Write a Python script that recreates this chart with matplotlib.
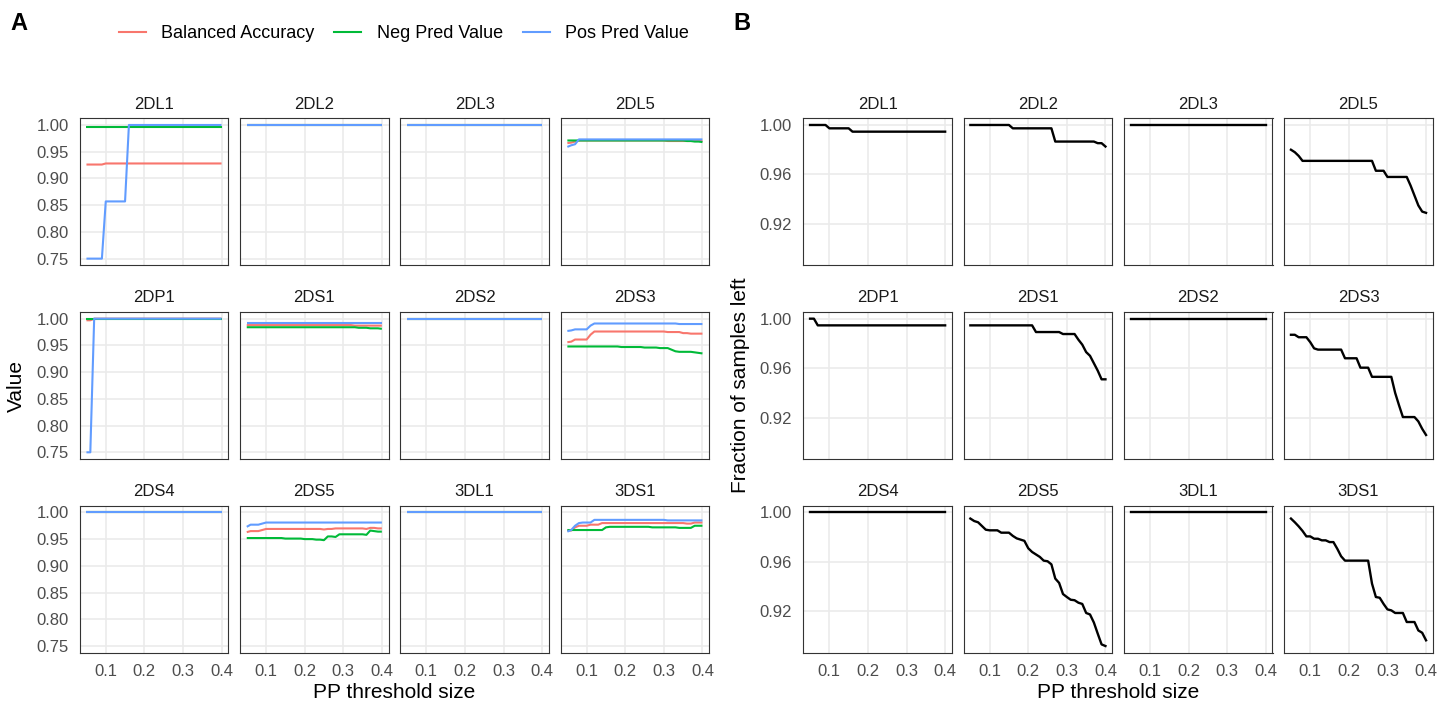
import matplotlib
matplotlib.use("Agg")
import matplotlib.pyplot as plt
from matplotlib.lines import Line2D

plt.rcParams['font.family'] = ['Liberation Sans', 'DejaVu Sans']

# ---------------- data ----------------
thresholds = [0.05, 0.06, 0.07, 0.08, 0.09, 0.10, 0.11, 0.12, 0.13, 0.14, 0.15, 0.16,
              0.17, 0.18, 0.19, 0.20, 0.21, 0.22, 0.23, 0.24, 0.25, 0.26, 0.27, 0.28,
              0.29, 0.30, 0.31, 0.32, 0.33, 0.34, 0.35, 0.36, 0.37, 0.38, 0.39, 0.40]

genes = ["2DL1", "2DL2", "2DL3", "2DL5",
         "2DP1", "2DS1", "2DS2", "2DS3",
         "2DS4", "2DS5", "3DL1", "3DS1"]

metric_names = ["Balanced Accuracy", "Neg Pred Value", "Pos Pred Value"]
metric_colors = ["#F8766D", "#00BA38", "#619CFF"]

all_one = [1.0, 1.0, 1.0, 1.0, 1.0, 1.0, 1.0, 1.0, 1.0, 1.0, 1.0, 1.0,
           1.0, 1.0, 1.0, 1.0, 1.0, 1.0, 1.0, 1.0, 1.0, 1.0, 1.0, 1.0,
           1.0, 1.0, 1.0, 1.0, 1.0, 1.0, 1.0, 1.0, 1.0, 1.0, 1.0, 1.0]

# Balanced accuracy
ba_2DL1 = [0.926, 0.926, 0.926, 0.926, 0.926, 0.928, 0.928, 0.928, 0.928, 0.928, 0.928, 0.928,
           0.928, 0.928, 0.928, 0.928, 0.928, 0.928, 0.928, 0.928, 0.928, 0.928, 0.928, 0.928,
           0.928, 0.928, 0.928, 0.928, 0.928, 0.928, 0.928, 0.928, 0.928, 0.928, 0.928, 0.928]
ba_2DL5 = [0.966, 0.967, 0.969, 0.971, 0.971, 0.971, 0.971, 0.971, 0.971, 0.971, 0.971, 0.971,
           0.971, 0.971, 0.971, 0.971, 0.971, 0.971, 0.971, 0.971, 0.971, 0.971, 0.971, 0.971,
           0.971, 0.971, 0.970, 0.970, 0.970, 0.970, 0.970, 0.970, 0.970, 0.970, 0.970, 0.970]
ba_2DP1 = [0.997, 0.997, 1.0, 1.0, 1.0, 1.0, 1.0, 1.0, 1.0, 1.0, 1.0, 1.0,
           1.0, 1.0, 1.0, 1.0, 1.0, 1.0, 1.0, 1.0, 1.0, 1.0, 1.0, 1.0,
           1.0, 1.0, 1.0, 1.0, 1.0, 1.0, 1.0, 1.0, 1.0, 1.0, 1.0, 1.0]
ba_2DS1 = [0.988, 0.988, 0.988, 0.988, 0.988, 0.988, 0.988, 0.988, 0.988, 0.988, 0.988, 0.988,
           0.988, 0.988, 0.988, 0.988, 0.988, 0.988, 0.988, 0.988, 0.988, 0.988, 0.988, 0.988,
           0.988, 0.988, 0.988, 0.988, 0.987, 0.987, 0.987, 0.987, 0.987, 0.987, 0.987, 0.987]
ba_2DS3 = [0.956, 0.957, 0.961, 0.961, 0.961, 0.961, 0.970, 0.976, 0.976, 0.976, 0.976, 0.976,
           0.976, 0.976, 0.976, 0.976, 0.976, 0.976, 0.976, 0.976, 0.976, 0.976, 0.976, 0.976,
           0.976, 0.976, 0.975, 0.975, 0.975, 0.975, 0.973, 0.973, 0.972, 0.972, 0.972, 0.972]
ba_2DS5 = [0.963, 0.965, 0.965, 0.965, 0.967, 0.969, 0.969, 0.969, 0.969, 0.969, 0.969, 0.969,
           0.969, 0.969, 0.969, 0.969, 0.969, 0.969, 0.969, 0.969, 0.968, 0.969, 0.969, 0.970,
           0.970, 0.970, 0.970, 0.970, 0.970, 0.970, 0.970, 0.969, 0.971, 0.971, 0.970, 0.970]
ba_3DS1 = [0.966, 0.966, 0.972, 0.975, 0.975, 0.975, 0.977, 0.977, 0.977, 0.980, 0.980, 0.980,
           0.980, 0.980, 0.980, 0.980, 0.980, 0.980, 0.980, 0.980, 0.980, 0.980, 0.980, 0.980,
           0.980, 0.980, 0.980, 0.980, 0.980, 0.980, 0.980, 0.979, 0.979, 0.981, 0.981, 0.981]

# Negative predictive value
npv_2DL1 = [0.997, 0.997, 0.997, 0.997, 0.997, 0.997, 0.997, 0.997, 0.997, 0.997, 0.997, 0.997,
            0.997, 0.997, 0.997, 0.997, 0.997, 0.997, 0.997, 0.997, 0.997, 0.997, 0.997, 0.997,
            0.997, 0.997, 0.997, 0.997, 0.997, 0.997, 0.997, 0.997, 0.997, 0.997, 0.997, 0.997]
npv_2DL5 = [0.971, 0.971, 0.971, 0.971, 0.971, 0.971, 0.971, 0.971, 0.971, 0.971, 0.971, 0.971,
            0.971, 0.971, 0.971, 0.971, 0.971, 0.971, 0.971, 0.971, 0.971, 0.971, 0.971, 0.971,
            0.971, 0.971, 0.971, 0.971, 0.971, 0.971, 0.971, 0.970, 0.970, 0.969, 0.969, 0.968]
npv_2DS1 = [0.984, 0.984, 0.984, 0.984, 0.984, 0.984, 0.984, 0.984, 0.984, 0.984, 0.984, 0.984,
            0.984, 0.984, 0.984, 0.984, 0.984, 0.984, 0.984, 0.984, 0.984, 0.984, 0.984, 0.984,
            0.984, 0.984, 0.984, 0.984, 0.984, 0.983, 0.983, 0.983, 0.982, 0.982, 0.982, 0.981]
npv_2DS3 = [0.948, 0.948, 0.948, 0.948, 0.948, 0.948, 0.948, 0.948, 0.948, 0.948, 0.948, 0.948,
            0.948, 0.948, 0.947, 0.947, 0.947, 0.947, 0.947, 0.947, 0.946, 0.946, 0.946, 0.946,
            0.945, 0.945, 0.945, 0.942, 0.939, 0.938, 0.938, 0.938, 0.938, 0.937, 0.936, 0.935]
npv_2DS5 = [0.952, 0.952, 0.952, 0.952, 0.952, 0.952, 0.952, 0.952, 0.952, 0.952, 0.951, 0.951,
            0.951, 0.951, 0.951, 0.950, 0.950, 0.950, 0.949, 0.949, 0.948, 0.955, 0.955, 0.954,
            0.959, 0.959, 0.959, 0.959, 0.959, 0.959, 0.959, 0.958, 0.966, 0.965, 0.964, 0.964]
npv_3DS1 = [0.967, 0.967, 0.967, 0.967, 0.967, 0.967, 0.967, 0.967, 0.967, 0.967, 0.972, 0.973,
            0.973, 0.973, 0.973, 0.973, 0.973, 0.973, 0.973, 0.973, 0.973, 0.973, 0.972, 0.972,
            0.972, 0.972, 0.972, 0.972, 0.972, 0.971, 0.971, 0.971, 0.971, 0.975, 0.975, 0.975]

# Positive predictive value
ppv_2DL1 = [0.750, 0.750, 0.750, 0.750, 0.750, 0.857, 0.857, 0.857, 0.857, 0.857, 0.857, 1.0,
            1.0, 1.0, 1.0, 1.0, 1.0, 1.0, 1.0, 1.0, 1.0, 1.0, 1.0, 1.0,
            1.0, 1.0, 1.0, 1.0, 1.0, 1.0, 1.0, 1.0, 1.0, 1.0, 1.0, 1.0]
ppv_2DL5 = [0.959, 0.962, 0.964, 0.973, 0.973, 0.973, 0.973, 0.973, 0.973, 0.973, 0.973, 0.973,
            0.973, 0.973, 0.973, 0.973, 0.973, 0.973, 0.973, 0.973, 0.973, 0.973, 0.973, 0.973,
            0.973, 0.973, 0.973, 0.973, 0.973, 0.973, 0.973, 0.973, 0.973, 0.973, 0.973, 0.973]
ppv_2DP1 = [0.750, 0.750, 1.0, 1.0, 1.0, 1.0, 1.0, 1.0, 1.0, 1.0, 1.0, 1.0,
            1.0, 1.0, 1.0, 1.0, 1.0, 1.0, 1.0, 1.0, 1.0, 1.0, 1.0, 1.0,
            1.0, 1.0, 1.0, 1.0, 1.0, 1.0, 1.0, 1.0, 1.0, 1.0, 1.0, 1.0]
ppv_2DS1 = [0.991, 0.991, 0.991, 0.991, 0.991, 0.991, 0.991, 0.991, 0.991, 0.991, 0.991, 0.991,
            0.991, 0.991, 0.991, 0.991, 0.991, 0.991, 0.991, 0.991, 0.991, 0.991, 0.991, 0.991,
            0.991, 0.991, 0.991, 0.991, 0.991, 0.991, 0.991, 0.991, 0.991, 0.991, 0.991, 0.991]
ppv_2DS3 = [0.977, 0.978, 0.980, 0.980, 0.980, 0.980, 0.987, 0.991, 0.991, 0.991, 0.991, 0.991,
            0.991, 0.991, 0.991, 0.991, 0.991, 0.991, 0.991, 0.991, 0.991, 0.991, 0.991, 0.991,
            0.991, 0.991, 0.991, 0.991, 0.991, 0.990, 0.990, 0.990, 0.990, 0.990, 0.990, 0.990]
ppv_2DS5 = [0.973, 0.977, 0.977, 0.977, 0.979, 0.981, 0.981, 0.981, 0.981, 0.981, 0.981, 0.981,
            0.981, 0.981, 0.981, 0.981, 0.981, 0.981, 0.981, 0.981, 0.981, 0.981, 0.981, 0.981,
            0.981, 0.981, 0.981, 0.981, 0.981, 0.981, 0.981, 0.981, 0.981, 0.981, 0.981, 0.981]
ppv_3DS1 = [0.964, 0.967, 0.975, 0.980, 0.981, 0.981, 0.981, 0.986, 0.986, 0.986, 0.986, 0.986,
            0.986, 0.986, 0.986, 0.986, 0.986, 0.986, 0.986, 0.986, 0.986, 0.986, 0.986, 0.986,
            0.986, 0.986, 0.985, 0.985, 0.985, 0.985, 0.985, 0.985, 0.985, 0.985, 0.985, 0.985]

# Fraction of samples left
frac_2DL1 = [1.0, 1.0, 1.0, 1.0, 1.0, 0.9973, 0.9973, 0.9973, 0.9973, 0.9973, 0.9973, 0.9946,
             0.9946, 0.9946, 0.9946, 0.9946, 0.9946, 0.9946, 0.9946, 0.9946, 0.9946, 0.9946, 0.9946, 0.9946,
             0.9946, 0.9946, 0.9946, 0.9946, 0.9946, 0.9946, 0.9946, 0.9946, 0.9946, 0.9946, 0.9946, 0.9946]
frac_2DL2 = [1.0, 1.0, 1.0, 1.0, 1.0, 1.0, 1.0, 1.0, 1.0, 1.0, 1.0, 0.9973,
             0.9973, 0.9973, 0.9973, 0.9973, 0.9973, 0.9973, 0.9973, 0.9973, 0.9973, 0.9973, 0.9866, 0.9866,
             0.9866, 0.9866, 0.9866, 0.9866, 0.9866, 0.9866, 0.9866, 0.9866, 0.9866, 0.9853, 0.9853, 0.9826]
frac_2DL5 = [0.980, 0.978, 0.975, 0.971, 0.971, 0.971, 0.971, 0.971, 0.971, 0.971, 0.971, 0.971,
             0.971, 0.971, 0.971, 0.971, 0.971, 0.971, 0.971, 0.971, 0.971, 0.971, 0.963, 0.963,
             0.963, 0.958, 0.958, 0.958, 0.958, 0.958, 0.958, 0.951, 0.943, 0.935, 0.930, 0.929]
frac_2DP1 = [1.0, 1.0, 0.9946, 0.9946, 0.9946, 0.9946, 0.9946, 0.9946, 0.9946, 0.9946, 0.9946, 0.9946,
             0.9946, 0.9946, 0.9946, 0.9946, 0.9946, 0.9946, 0.9946, 0.9946, 0.9946, 0.9946, 0.9946, 0.9946,
             0.9946, 0.9946, 0.9946, 0.9946, 0.9946, 0.9946, 0.9946, 0.9946, 0.9946, 0.9946, 0.9946, 0.9946]
frac_2DS1 = [0.9946, 0.9946, 0.9946, 0.9946, 0.9946, 0.9946, 0.9946, 0.9946, 0.9946, 0.9946, 0.9946, 0.9946,
             0.9946, 0.9946, 0.9946, 0.9946, 0.9946, 0.9892, 0.9892, 0.9892, 0.9892, 0.9892, 0.9892, 0.9892,
             0.9876, 0.9876, 0.9876, 0.9876, 0.983, 0.979, 0.973, 0.970, 0.964, 0.958, 0.951, 0.951]
frac_2DS3 = [0.987, 0.987, 0.985, 0.985, 0.985, 0.981, 0.976, 0.975, 0.975, 0.975, 0.975, 0.975,
             0.975, 0.975, 0.968, 0.968, 0.968, 0.968, 0.9604, 0.9604, 0.9604, 0.953, 0.953, 0.953,
             0.953, 0.953, 0.953, 0.940, 0.930, 0.9205, 0.9205, 0.9205, 0.9205, 0.917, 0.911, 0.906]
frac_2DS5 = [0.995, 0.993, 0.992, 0.989, 0.986, 0.9855, 0.9855, 0.9855, 0.9836, 0.9836, 0.9836, 0.981,
             0.979, 0.978, 0.977, 0.971, 0.968, 0.966, 0.964, 0.961, 0.9605, 0.958, 0.9465, 0.943,
             0.934, 0.9316, 0.9294, 0.929, 0.927, 0.926, 0.9187, 0.9175, 0.911, 0.902, 0.8933, 0.892]
frac_3DS1 = [0.995, 0.992, 0.9887, 0.985, 0.9806, 0.9806, 0.9787, 0.9787, 0.9774, 0.9774, 0.976, 0.976,
             0.9706, 0.9645, 0.961, 0.961, 0.961, 0.961, 0.961, 0.961, 0.961, 0.9424, 0.9316, 0.931,
             0.926, 0.9216, 0.9208, 0.9187, 0.9187, 0.9187, 0.9114, 0.9114, 0.9114, 0.9046, 0.9027, 0.8966]

balanced_accuracy = {"2DL1": ba_2DL1, "2DL2": all_one, "2DL3": all_one, "2DL5": ba_2DL5,
                     "2DP1": ba_2DP1, "2DS1": ba_2DS1, "2DS2": all_one, "2DS3": ba_2DS3,
                     "2DS4": all_one, "2DS5": ba_2DS5, "3DL1": all_one, "3DS1": ba_3DS1}
neg_pred_value = {"2DL1": npv_2DL1, "2DL2": all_one, "2DL3": all_one, "2DL5": npv_2DL5,
                  "2DP1": all_one, "2DS1": npv_2DS1, "2DS2": all_one, "2DS3": npv_2DS3,
                  "2DS4": all_one, "2DS5": npv_2DS5, "3DL1": all_one, "3DS1": npv_3DS1}
pos_pred_value = {"2DL1": ppv_2DL1, "2DL2": all_one, "2DL3": all_one, "2DL5": ppv_2DL5,
                  "2DP1": ppv_2DP1, "2DS1": ppv_2DS1, "2DS2": all_one, "2DS3": ppv_2DS3,
                  "2DS4": all_one, "2DS5": ppv_2DS5, "3DL1": all_one, "3DS1": ppv_3DS1}
fraction_left = {"2DL1": frac_2DL1, "2DL2": frac_2DL2, "2DL3": all_one, "2DL5": frac_2DL5,
                 "2DP1": frac_2DP1, "2DS1": frac_2DS1, "2DS2": all_one, "2DS3": frac_2DS3,
                 "2DS4": all_one, "2DS5": frac_2DS5, "3DL1": all_one, "3DS1": frac_3DS1}

a_yticks = [0.75, 0.80, 0.85, 0.90, 0.95, 1.00]
b_yticks = [0.92, 0.96, 1.00]
x_ticks = [0.1, 0.2, 0.3, 0.4]

# ---------------- layout ----------------
W, H = 1455, 704
fig = plt.figure(figsize=(W / 100, H / 100), dpi=100)
fig.patch.set_facecolor("white")

panel_w, panel_h = 148.6, 147.0
gap_x = 11.7
row_tops = [118.3, 312.0, 505.7]
a_left0, b_left0 = 79.7, 803.3


def expand(lo, hi, f=0.05):
    d = (hi - lo) * f
    return lo - d, hi + d


xlim = expand(min(thresholds), max(thresholds))
a_vals = [v for d in (balanced_accuracy, neg_pred_value, pos_pred_value) for g in genes for v in d[g]]
a_ylim = expand(min(a_vals), max(a_vals))
b_vals = [v for g in genes for v in fraction_left[g]]
b_ylim = expand(min(b_vals), max(b_vals))

GRID = "#EBEBEB"
TXT = "#4D4D4D"


def make_ax(left_px, top_px):
    ax = fig.add_axes([left_px / W, 1 - (top_px + panel_h) / H, panel_w / W, panel_h / H])
    ax.set_facecolor("white")
    for s in ax.spines.values():
        s.set_color("#333333")
        s.set_linewidth(0.8)
    ax.grid(True, color=GRID, linewidth=1.2, zorder=0)
    ax.set_axisbelow(True)
    ax.tick_params(length=0, labelsize=12, labelcolor=TXT, pad=8)
    ax.set_xlim(*xlim)
    ax.set_xticks(x_ticks)
    ax.set_xticklabels([f"{t:g}" for t in x_ticks])
    return ax


for idx, g in enumerate(genes):
    r, c = divmod(idx, 4)
    # Panel A
    ax = make_ax(a_left0 + c * (panel_w + gap_x), row_tops[r])
    for d, col in zip((balanced_accuracy, neg_pred_value, pos_pred_value), metric_colors):
        ax.plot(thresholds, d[g], color=col, lw=1.5, solid_capstyle="butt", zorder=3)
    ax.set_ylim(*a_ylim)
    ax.set_yticks(a_yticks)
    ax.set_yticklabels([f"{t:.2f}" for t in a_yticks])
    ax.set_title(g, fontsize=12, color="#1A1A1A", pad=7)
    if c != 0:
        ax.tick_params(labelleft=False)
    if r != 2:
        ax.tick_params(labelbottom=False)

    # Panel B
    bx = make_ax(b_left0 + c * (panel_w + gap_x), row_tops[r])
    bx.plot(thresholds, fraction_left[g], color="black", lw=1.7, zorder=3)
    bx.set_ylim(*b_ylim)
    bx.set_yticks(b_yticks)
    bx.set_yticklabels([f"{t:.2f}" for t in b_yticks])
    bx.set_title(g, fontsize=12, color="#1A1A1A", pad=7)
    if c != 0:
        bx.tick_params(labelleft=False)
    if r != 2:
        bx.tick_params(labelbottom=False)

# axis titles
a_cx = (a_left0 + a_left0 + 4 * panel_w + 3 * gap_x) / 2
b_cx = (b_left0 + b_left0 + 4 * panel_w + 3 * gap_x) / 2
mid_y = (row_tops[0] + row_tops[2] + panel_h) / 2
fig.text(a_cx / W, 1 - 692 / H, "PP threshold size", ha="center", va="center", fontsize=15)
fig.text(b_cx / W, 1 - 692 / H, "PP threshold size", ha="center", va="center", fontsize=15)
fig.text(16 / W, 1 - mid_y / H, "Value", ha="center", va="center", rotation=90, fontsize=15)
fig.text(740 / W, 1 - mid_y / H, "Fraction of samples left", ha="center", va="center",
         rotation=90, fontsize=15)

# panel labels
fig.text(10 / W, 1 - 23 / H, "A", ha="left", va="center", fontsize=17, fontweight="bold")
fig.text(733 / W, 1 - 23 / H, "B", ha="left", va="center", fontsize=17, fontweight="bold")

# legend
handles = [Line2D([], [], color=col, lw=1.5) for col in metric_colors]
fig.legend(handles, metric_names, loc="center", bbox_to_anchor=(404 / W, 1 - 34 / H),
           ncol=3, frameon=False, fontsize=13, handlelength=1.5, handletextpad=0.85,
           columnspacing=1.1, borderaxespad=0, borderpad=0)

fig.savefig("out.png", dpi=100, facecolor="white")
